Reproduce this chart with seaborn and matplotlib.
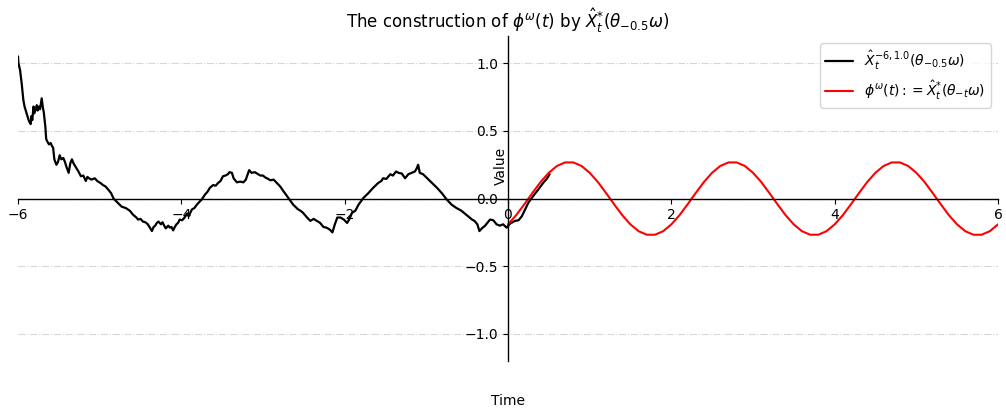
import numpy as np
import pandas as pd
import matplotlib
matplotlib.use("Agg")
import matplotlib.pyplot as plt
import seaborn as sns

# Approximate path X_t^{-6,1.0}(theta_{-0.5} omega) on [-6, 0.5]
path_t = [
    -6.00, -5.995, -5.975, -5.965, -5.955, -5.945, -5.935, -5.92, -5.90, -5.885,
    -5.87, -5.855, -5.845, -5.835, -5.825, -5.81, -5.80, -5.785, -5.77, -5.76,
    -5.745, -5.73, -5.71, -5.695, -5.685, -5.665, -5.655, -5.64, -5.62, -5.60,
    -5.585, -5.57, -5.555, -5.53, -5.51, -5.49, -5.47, -5.445, -5.425, -5.41,
    -5.38, -5.36, -5.34, -5.32, -5.30, -5.28, -5.26, -5.23, -5.20, -5.17,
    -5.15, -5.13, -5.10, -5.06, -5.03, -4.99, -4.96, -4.93, -4.90, -4.86,
    -4.83, -4.78, -4.73, -4.68, -4.63, -4.59, -4.55, -4.53, -4.50, -4.47,
    -4.44, -4.41, -4.38, -4.36, -4.34, -4.32, -4.30, -4.28, -4.25, -4.23,
    -4.21, -4.19, -4.16, -4.14, -4.12, -4.10, -4.08, -4.06, -4.04, -4.02,
    -3.99, -3.96, -3.93, -3.91, -3.87, -3.84, -3.81, -3.78, -3.75, -3.71,
    -3.68, -3.65, -3.61, -3.58, -3.55, -3.52, -3.49, -3.46, -3.43, -3.41,
    -3.38, -3.36, -3.32, -3.28, -3.24, -3.21, -3.17, -3.14, -3.10, -3.06,
    -3.03, -3.00, -2.97, -2.95, -2.91, -2.87, -2.83, -2.79, -2.75, -2.69,
    -2.63, -2.57, -2.54, -2.51, -2.46, -2.42, -2.38, -2.34, -2.30, -2.26,
    -2.22, -2.18, -2.15, -2.12, -2.09, -2.05, -2.01, -1.97, -1.94, -1.91,
    -1.87, -1.83, -1.77, -1.71, -1.65, -1.59, -1.55, -1.53, -1.49, -1.44,
    -1.41, -1.37, -1.34, -1.30, -1.26, -1.22, -1.18, -1.14, -1.12, -1.10,
    -1.08, -1.04, -0.99, -0.93, -0.87, -0.81, -0.75, -0.69, -0.63, -0.57,
    -0.51, -0.44, -0.41, -0.375, -0.35, -0.32, -0.28, -0.24, -0.22, -0.18,
    -0.14, -0.10, -0.06, -0.016, 0.025, 0.086, 0.13, 0.17, 0.21, 0.25,
    0.31, 0.37, 0.43, 0.48, 0.51,
]
path_v = [
    1.05, 1.00, 0.95, 0.90, 0.85, 0.79, 0.73, 0.68, 0.64, 0.61,
    0.58, 0.56, 0.55, 0.61, 0.58, 0.68, 0.63, 0.66, 0.69, 0.65,
    0.68, 0.66, 0.74, 0.67, 0.64, 0.53, 0.44, 0.42, 0.40, 0.41,
    0.39, 0.375, 0.29, 0.25, 0.27, 0.32, 0.29, 0.30, 0.27, 0.24,
    0.19, 0.26, 0.29, 0.26, 0.24, 0.22, 0.20, 0.165, 0.17, 0.13,
    0.16, 0.15, 0.14, 0.15, 0.13, 0.115, 0.10, 0.09, 0.07, 0.04,
    0.00, -0.03, -0.06, -0.07, -0.09, -0.12, -0.14, -0.155, -0.15, -0.17,
    -0.175, -0.19, -0.22, -0.24, -0.21, -0.20, -0.18, -0.17, -0.19, -0.175,
    -0.20, -0.22, -0.20, -0.215, -0.21, -0.235, -0.21, -0.19, -0.18, -0.155,
    -0.16, -0.14, -0.11, -0.13, -0.08, -0.07, -0.045, -0.025, -0.007, 0.03,
    0.05, 0.08, 0.10, 0.095, 0.115, 0.13, 0.165, 0.17, 0.18, 0.195,
    0.19, 0.15, 0.12, 0.125, 0.12, 0.14, 0.21, 0.19, 0.195, 0.18,
    0.17, 0.17, 0.155, 0.15, 0.135, 0.14, 0.115, 0.09, 0.055, 0.005,
    -0.045, -0.08, -0.09, -0.105, -0.14, -0.165, -0.15, -0.165, -0.18, -0.21,
    -0.215, -0.23, -0.25, -0.19, -0.14, -0.14, -0.155, -0.18, -0.15, -0.105,
    -0.09, -0.045, 0.005, 0.04, 0.08, 0.115, 0.13, 0.15, 0.145, 0.18,
    0.17, 0.20, 0.19, 0.185, 0.15, 0.18, 0.19, 0.20, 0.22, 0.25,
    0.19, 0.18, 0.15, 0.115, 0.08, 0.04, -0.007, -0.045, -0.07, -0.09,
    -0.12, -0.155, -0.165, -0.19, -0.24, -0.22, -0.20, -0.17, -0.155, -0.16,
    -0.19, -0.20, -0.19, -0.215, -0.185, -0.165, -0.16, -0.13, -0.08, -0.03,
    0.02, 0.066, 0.115, 0.15, 0.18,
]

# Stationary solution phi^omega(t) on [0, 6], sampled every 0.1
phi_t = [round(0.1 * i, 1) for i in range(61)]
phi_v = [
    -0.191, -0.123, -0.042, 0.042, 0.123, 0.191, 0.241, 0.267, 0.267, 0.241,
    0.191, 0.123, 0.042, -0.042, -0.123, -0.191, -0.241, -0.267, -0.267, -0.241,
    -0.191, -0.123, -0.042, 0.042, 0.123, 0.191, 0.241, 0.267, 0.267, 0.241,
    0.191, 0.123, 0.042, -0.042, -0.123, -0.191, -0.241, -0.267, -0.267, -0.241,
    -0.191, -0.123, -0.042, 0.042, 0.123, 0.191, 0.241, 0.267, 0.267, 0.241,
    0.191, 0.123, 0.042, -0.042, -0.123, -0.191, -0.241, -0.267, -0.267, -0.241,
    -0.191,
]

x_ticks = [-6, -4, -2, 0, 2, 4, 6]
y_ticks = [-1.0, -0.5, 0.0, 0.5, 1.0]

label_path = r'$\hat{X}_t^{-6,1.0}(\theta_{-0.5}\omega)$'
label_phi = r'$\phi^{\omega}(t):=\hat{X}_t^{*}(\theta_{-t}\omega)$'

sns.set_style("white", rc={
    "text.color": "black",
    "axes.labelcolor": "black",
    "xtick.color": "black",
    "ytick.color": "black",
})
plt.rcParams['font.family'] = ['DejaVu Sans']

df_path = pd.DataFrame({"Time": path_t, "Value": path_v})
df_phi = pd.DataFrame({"Time": phi_t, "Value": phi_v})

fig, ax = plt.subplots(figsize=(10.06, 4.15), dpi=100)
fig.subplots_adjust(left=0.0179, right=0.992, bottom=0.130, top=0.913)

sns.lineplot(data=df_path, x="Time", y="Value", color="black", linewidth=1.6,
             estimator=None, sort=False, label=label_path, ax=ax)
sns.lineplot(data=df_phi, x="Time", y="Value", color="red", linewidth=1.5,
             estimator=None, sort=False, label=label_phi, ax=ax)

ax.set_xlim(-6, 6)
ax.set_ylim(-1.2, 1.2)
ax.set_xticks(x_ticks)
ax.set_yticks(y_ticks)

# Axes crossing at the origin
ax.spines['left'].set_position('zero')
ax.spines['bottom'].set_position('zero')
ax.spines['right'].set_visible(False)
ax.spines['top'].set_visible(False)
for side in ('left', 'bottom'):
    ax.spines[side].set_color('black')
    ax.spines[side].set_linewidth(1.0)
ax.tick_params(axis='both', direction='out', length=3.5, width=0.8,
               colors='black', labelsize=10, bottom=True, left=True)

ax.yaxis.grid(True, linestyle='-.', color='#b0b0b0', linewidth=0.8, alpha=0.5)
ax.xaxis.grid(False)

ax.set_xlabel("Time", fontsize=10)
ax.set_ylabel("Value", fontsize=10)
ax.xaxis.set_label_coords(0.5, -0.1)
ax.yaxis.set_label_coords(0.5, 0.6)

ax.set_title(r'The construction of $\phi^{\omega}(t)$ by $\hat{X}_t^{*}(\theta_{-0.5}\omega)$',
             fontsize=12)

ax.legend(loc='upper right', fontsize=10, frameon=True)

fig.savefig("out.png", dpi=100)
